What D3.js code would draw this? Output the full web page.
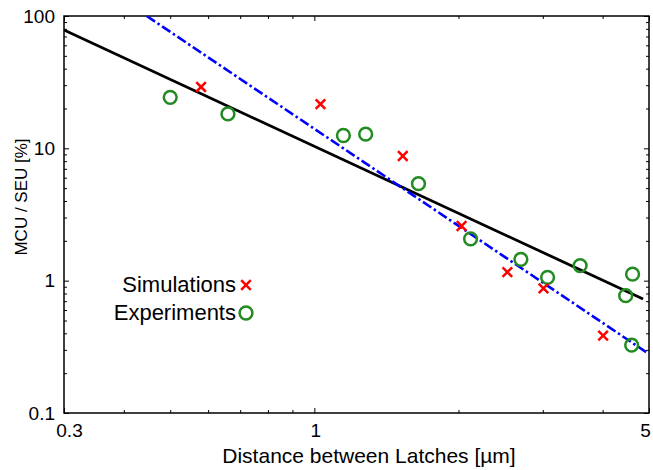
<!DOCTYPE html>
<html>
<head>
<meta charset="utf-8">
<script src="https://cdn.jsdelivr.net/npm/d3@7"></script>
<style>
  body { margin: 0; background: white; }
  svg { font-family: "Liberation Sans", Arial, Helvetica, sans-serif; }
</style>
</head>
<body>
<div id="chart"></div>
<script>
// simulations (red crosses)
const simX = [0.58, 1.03, 1.53, 2.03, 2.53, 3.01, 4.01];
const simY = [29.1, 21.6, 8.75, 2.59, 1.16, 0.875, 0.384];

// experiments (green circles)
const expX = [0.50, 0.66, 1.15, 1.28, 1.65, 2.12, 2.70, 3.07, 3.59, 4.62, 4.47, 4.60];
const expY = [24.3, 18.2, 12.5, 12.8, 5.41, 2.07, 1.45, 1.06, 1.30, 1.12, 0.77, 0.326];

// fitted lines (end points)
const fitSimX = [0.3, 4.86];
const fitSimY = [78.3, 0.727];
const fitExpX = [0.4466, 5.0];
const fitExpY = [100, 0.279];

const xTicks = [0.3, 1, 5];
const xMinor = [0.4, 0.5, 0.6, 0.7, 0.8, 0.9, 2, 3, 4];
const yTicks = [0.1, 1, 10, 100];
const yMinor = [0.2, 0.3, 0.4, 0.5, 0.6, 0.7, 0.8, 0.9, 2, 3, 4, 5, 6, 7, 8, 9, 20, 30, 40, 50, 60, 70, 80, 90];

const W = 653, H = 470;
const MARGIN = { TOP: 16, BOTTOM: 57, LEFT: 64, RIGHT: 4 };
const width = W - MARGIN.LEFT - MARGIN.RIGHT;
const height = H - MARGIN.TOP - MARGIN.BOTTOM;

const svg = d3.select("#chart").append("svg")
  .attr("width", W)
  .attr("height", H);

const g = svg.append("g")
  .attr("transform", `translate(${MARGIN.LEFT}, ${MARGIN.TOP})`);

const x = d3.scaleLog().domain([0.3, 5]).range([0, width]);
const y = d3.scaleLog().domain([0.1, 100]).range([height, 0]);

g.append("clipPath").attr("id", "clip")
  .append("rect").attr("width", width).attr("height", height);

// axes, ticks pointing inward
const fmt = (d) => String(d);
function styleAxis(sel, size) {
  sel.select(".domain").remove();
  sel.selectAll(".tick line").attr("stroke", "#000").attr("stroke-width", 1);
  sel.selectAll("text").attr("fill", "#000").style("font-size", size + "px");
}

const xAxisG = g.append("g").attr("transform", `translate(0, ${height})`)
  .call(d3.axisBottom(x).tickValues(xTicks).tickFormat(fmt).tickSize(-5).tickPadding(11))
  .call((s) => styleAxis(s, 19));
// nudge the end labels like the original
xAxisG.selectAll(".tick text").attr("dx", (d) => (d === 0.3 ? 5 : d === 5 ? -4 : 1));

g.append("g").attr("transform", `translate(0, ${height})`)
  .call(d3.axisBottom(x).tickValues(xMinor).tickFormat("").tickSize(-3))
  .call((s) => styleAxis(s, 19));
g.append("g")
  .call(d3.axisTop(x).tickValues(xTicks).tickFormat("").tickSize(-5))
  .call((s) => styleAxis(s, 19));
g.append("g")
  .call(d3.axisTop(x).tickValues(xMinor).tickFormat("").tickSize(-3))
  .call((s) => styleAxis(s, 19));

g.append("g")
  .call(d3.axisLeft(y).tickValues(yTicks).tickFormat(fmt).tickSize(-5).tickPadding(9))
  .call((s) => styleAxis(s, 19));
g.append("g")
  .call(d3.axisLeft(y).tickValues(yMinor).tickFormat("").tickSize(-3))
  .call((s) => styleAxis(s, 19));
g.append("g").attr("transform", `translate(${width}, 0)`)
  .call(d3.axisRight(y).tickValues(yTicks).tickFormat("").tickSize(-5))
  .call((s) => styleAxis(s, 19));
g.append("g").attr("transform", `translate(${width}, 0)`)
  .call(d3.axisRight(y).tickValues(yMinor).tickFormat("").tickSize(-3))
  .call((s) => styleAxis(s, 19));

// frame
g.append("rect")
  .attr("width", width)
  .attr("height", height)
  .attr("fill", "none")
  .attr("stroke", "#000")
  .attr("stroke-width", 1.5);

// axis labels
svg.append("text")
  .attr("x", 369)
  .attr("y", 463)
  .attr("text-anchor", "middle")
  .style("font-size", "21px")
  .text("Distance between Latches [\u00b5m]");

svg.append("text")
  .attr("transform", "translate(21, 197) rotate(-90)")
  .attr("text-anchor", "middle")
  .attr("dominant-baseline", "central")
  .style("font-size", "17px")
  .text("MCU / SEU [%]");

// fitted lines
const line = d3.line().x((d) => x(d[0])).y((d) => y(d[1]));
const plot = g.append("g").attr("clip-path", "url(#clip)");

plot.append("path")
  .attr("d", line(d3.zip(fitSimX, fitSimY)))
  .attr("fill", "none")
  .attr("stroke", "#000")
  .attr("stroke-width", 2.8);

plot.append("path")
  .attr("d", line(d3.zip(fitExpX, fitExpY)))
  .attr("fill", "none")
  .attr("stroke", "#0000ff")
  .attr("stroke-width", 2.6)
  .attr("stroke-dasharray", "10,3,2.5,3");

// markers
const cross = (s) => `M${-s},${-s}L${s},${s}M${-s},${s}L${s},${-s}`;

g.selectAll(".exp")
  .data(d3.zip(expX, expY))
  .enter()
  .append("circle")
  .attr("class", "exp")
  .attr("cx", (d) => x(d[0]))
  .attr("cy", (d) => y(d[1]))
  .attr("r", 6.4)
  .attr("fill", "none")
  .attr("stroke", "#228b22")
  .attr("stroke-width", 2.5);

g.selectAll(".sim")
  .data(d3.zip(simX, simY))
  .enter()
  .append("path")
  .attr("class", "sim")
  .attr("transform", (d) => `translate(${x(d[0])}, ${y(d[1])})`)
  .attr("d", cross(4.8))
  .attr("fill", "none")
  .attr("stroke", "#ff0000")
  .attr("stroke-width", 2.5);

// legend
const legend = svg.append("g");
legend.append("text")
  .attr("x", 236).attr("y", 284)
  .attr("text-anchor", "end")
  .attr("dominant-baseline", "central")
  .style("font-size", "22px")
  .text("Simulations");
legend.append("path")
  .attr("transform", "translate(246, 285)")
  .attr("d", cross(4.8))
  .attr("fill", "none")
  .attr("stroke", "#ff0000")
  .attr("stroke-width", 2.5);
legend.append("text")
  .attr("x", 236).attr("y", 312)
  .attr("text-anchor", "end")
  .attr("dominant-baseline", "central")
  .style("font-size", "22px")
  .text("Experiments");
legend.append("circle")
  .attr("cx", 246).attr("cy", 313)
  .attr("r", 6.4)
  .attr("fill", "none")
  .attr("stroke", "#228b22")
  .attr("stroke-width", 2.5);
</script>
</body>
</html>
